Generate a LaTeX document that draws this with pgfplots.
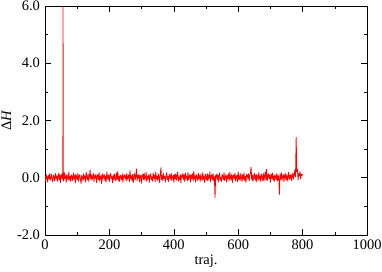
\documentclass[border=0pt]{standalone}
\usepackage{pgfplots}
\pgfplotsset{compat=1.18}
\usepackage{fontspec}
\setmainfont{Liberation Serif}
\begin{document}
\begin{tikzpicture}
\fontsize{14.5}{16}\selectfont
\path[use as bounding box] (-45pt,-36pt) rectangle (337pt,235pt);
\begin{axis}[
  at={(0,0)}, anchor=south west,
  scale only axis, width=322pt, height=229pt,
  xmin=0, xmax=1000, ymin=-2, ymax=6,
  xtick={0,200,...,1000}, ytick={-2,0,2,4,6},
  minor x tick num=1, minor y tick num=1,
  tick align=inside,
  major tick length=6pt, minor tick length=3pt,
  tick style={black, line width=0.6pt},
  axis line style={line width=1pt},
  every tick label/.append style={font=\fontsize{14.5}{16}\selectfont},
  /pgf/number format/assume math mode=true,
  yticklabel style={/pgf/number format/.cd, fixed, fixed zerofill, precision=1},
  xticklabel style={/pgf/number format/.cd, fixed, precision=0, 1000 sep={}},
  xlabel={traj.},
  ylabel={Δ\textit{H}},
  label style={font=\fontsize{14.5}{16}\selectfont},
  xlabel style={yshift=5pt},
  ylabel style={yshift=-4pt},
]
\addplot[red, line width=0.8pt, line join=round] table[row sep=\\] {
x y\\
0 0.05\\ 2 -0.12\\ 4 0.10\\ 6 0.02\\ 8 -0.15\\ 10 0.08\\ 12 -0.04\\ 14 0.14\\ 16 -0.09\\ 18 0.01\\
20 0.12\\ 22 -0.06\\ 24 -0.14\\ 26 0.09\\ 28 0.03\\ 30 -0.11\\ 32 0.16\\ 34 -0.02\\ 36 0.07\\ 38 -0.13\\
40 0.04\\ 42 0.15\\ 44 -0.08\\ 46 0.11\\ 48 -0.17\\ 50 0.06\\ 52 0.13\\ 54 -0.05\\ 55.5 0.05\\ 56 8.0\\ 56.5 0.08\\ 58 -0.12\\
60 0.18\\ 62 -0.03\\ 64 0.07\\ 66 -0.16\\ 68 0.12\\ 70 0.00\\ 72 -0.09\\ 74 0.20\\ 76 -0.07\\ 78 0.05\\
80 -0.14\\ 82 0.10\\ 84 0.03\\ 86 -0.10\\ 88 0.17\\ 90 -0.04\\ 92 0.08\\ 94 -0.19\\ 96 0.13\\ 98 0.02\\
100 -0.08\\ 102 0.15\\ 104 -0.12\\ 106 0.06\\ 108 0.11\\ 110 -0.06\\ 112 -0.20\\ 114 0.09\\ 116 0.04\\ 118 -0.11\\
120 0.14\\ 122 -0.03\\ 124 0.07\\ 126 -0.15\\ 128 0.19\\ 130 0.01\\ 132 -0.08\\ 134 0.12\\ 136 -0.13\\ 138 0.06\\
140 0.27\\ 142 -0.05\\ 144 0.10\\ 146 -0.09\\ 148 0.03\\ 150 0.16\\ 152 -0.14\\ 154 0.08\\ 156 -0.02\\ 158 0.13\\
160 -0.17\\ 162 0.05\\ 164 0.11\\ 166 -0.07\\ 168 0.18\\ 170 -0.12\\ 172 0.02\\ 174 0.09\\ 176 -0.21\\ 178 0.14\\
180 -0.04\\ 182 0.07\\ 184 0.12\\ 186 -0.10\\ 188 0.05\\ 190 -0.15\\ 192 0.20\\ 194 0.01\\ 196 -0.06\\ 198 0.11\\
200 -0.13\\ 202 0.08\\ 204 0.15\\ 206 -0.03\\ 208 0.04\\ 210 -0.18\\ 212 0.10\\ 214 -0.08\\ 216 0.13\\ 218 0.00\\
220 -0.11\\ 222 0.17\\ 224 -0.05\\ 226 0.22\\ 228 -0.09\\ 230 0.06\\ 232 -0.14\\ 234 0.09\\ 236 0.03\\ 238 -0.07\\
240 0.14\\ 242 -0.16\\ 244 0.05\\ 246 0.11\\ 248 -0.02\\ 250 0.08\\ 252 -0.12\\ 254 0.16\\ 256 -0.06\\ 258 0.03\\
260 0.10\\ 262 -0.13\\ 264 0.25\\ 266 -0.04\\ 268 0.07\\ 270 -0.10\\ 272 0.12\\ 274 -0.17\\ 276 0.02\\ 278 0.15\\
280 -0.08\\ 282 0.06\\ 284 0.31\\ 286 -0.11\\ 288 0.09\\ 290 -0.03\\ 292 0.13\\ 294 -0.15\\ 296 0.04\\ 298 0.10\\
300 -0.19\\ 302 0.07\\ 304 0.12\\ 306 -0.06\\ 308 0.16\\ 310 -0.09\\ 312 0.02\\ 314 0.19\\ 316 -0.13\\ 318 0.05\\
320 -0.04\\ 322 0.11\\ 324 -0.16\\ 326 0.08\\ 328 0.14\\ 330 -0.07\\ 332 0.03\\ 334 -0.12\\ 336 0.17\\ 338 -0.02\\
340 0.09\\ 342 -0.14\\ 344 0.21\\ 346 -0.05\\ 348 0.06\\ 350 -0.10\\ 352 0.13\\ 354 0.01\\ 356 -0.17\\ 358 0.12\\
360 0.35\\ 362 -0.06\\ 364 0.08\\ 366 -0.11\\ 368 0.15\\ 370 -0.03\\ 372 0.05\\ 374 -0.15\\ 376 0.10\\ 378 0.18\\
380 -0.08\\ 382 0.04\\ 384 -0.13\\ 386 0.12\\ 388 0.07\\ 390 -0.05\\ 392 0.16\\ 394 -0.10\\ 396 0.02\\ 398 0.09\\
400 -0.16\\ 402 0.11\\ 404 -0.04\\ 406 0.14\\ 408 -0.09\\ 410 0.06\\ 412 0.20\\ 414 -0.12\\ 416 0.03\\ 418 -0.07\\
420 0.13\\ 422 -0.18\\ 424 0.08\\ 426 0.01\\ 428 0.15\\ 430 -0.06\\ 432 0.10\\ 434 -0.14\\ 436 0.17\\ 438 -0.02\\
440 0.06\\ 442 -0.11\\ 444 0.19\\ 446 -0.07\\ 448 0.04\\ 450 0.12\\ 452 -0.15\\ 454 0.09\\ 456 -0.03\\ 458 0.14\\
460 -0.12\\ 462 0.23\\ 464 -0.05\\ 466 0.07\\ 468 -0.16\\ 470 0.11\\ 472 0.02\\ 474 -0.09\\ 476 0.16\\ 478 -0.04\\
480 0.08\\ 482 -0.13\\ 484 0.13\\ 486 0.00\\ 488 -0.10\\ 490 0.18\\ 492 -0.06\\ 494 0.05\\ 496 -0.17\\ 498 0.12\\
500 0.03\\ 502 -0.08\\ 504 0.15\\ 506 -0.12\\ 508 0.09\\ 510 -0.02\\ 512 0.20\\ 514 -0.14\\ 516 0.06\\ 518 0.11\\
520 -0.07\\ 522 0.14\\ 524 -0.11\\ 526 0.04\\ 528 -0.70\\ 530 0.08\\ 532 0.13\\ 534 -0.05\\ 536 0.10\\ 538 -0.16\\
540 0.07\\ 542 0.17\\ 544 -0.09\\ 546 0.02\\ 548 -0.13\\ 550 0.12\\ 552 0.05\\ 554 -0.06\\ 556 0.18\\ 558 -0.10\\
560 0.04\\ 562 0.11\\ 564 -0.15\\ 566 0.08\\ 568 -0.03\\ 570 0.14\\ 572 -0.11\\ 574 0.19\\ 576 0.01\\ 578 -0.08\\
580 0.13\\ 582 -0.17\\ 584 0.06\\ 586 0.10\\ 588 -0.04\\ 590 0.16\\ 592 -0.12\\ 594 0.03\\ 596 0.09\\ 598 -0.14\\
600 0.21\\ 602 -0.06\\ 604 0.07\\ 606 -0.10\\ 608 0.15\\ 610 0.00\\ 612 -0.13\\ 614 0.11\\ 616 -0.05\\ 618 0.17\\
620 -0.09\\ 622 0.05\\ 624 -0.16\\ 626 0.12\\ 628 0.08\\ 630 -0.03\\ 632 0.14\\ 634 -0.11\\ 636 0.06\\ 638 0.19\\
640 0.37\\ 642 -0.08\\ 644 0.10\\ 646 -0.13\\ 648 0.04\\ 650 0.16\\ 652 -0.07\\ 654 0.09\\ 656 -0.15\\ 658 0.12\\
660 0.02\\ 662 -0.10\\ 664 0.18\\ 666 -0.05\\ 668 0.07\\ 670 -0.14\\ 672 0.13\\ 674 0.03\\ 676 -0.09\\ 678 0.15\\
680 -0.12\\ 682 0.08\\ 684 0.20\\ 686 -0.06\\ 688 0.30\\ 690 -0.11\\ 692 0.05\\ 694 0.14\\ 696 -0.03\\ 698 0.10\\
700 -0.16\\ 702 0.12\\ 704 -0.02\\ 706 0.17\\ 708 -0.08\\ 710 0.06\\ 712 -0.13\\ 714 0.11\\ 716 0.04\\ 718 -0.07\\
720 0.15\\ 722 -0.11\\ 724 0.08\\ 726 0.01\\ 728 -0.58\\ 730 0.13\\ 732 -0.05\\ 734 0.18\\ 736 -0.09\\ 738 0.07\\
740 0.12\\ 742 -0.14\\ 744 0.05\\ 746 0.16\\ 748 -0.06\\ 750 0.10\\ 752 -0.12\\ 754 0.03\\ 756 0.19\\ 758 -0.08\\
760 0.09\\ 762 -0.03\\ 764 0.14\\ 766 -0.10\\ 768 0.06\\ 770 0.17\\ 772 -0.05\\ 774 0.11\\ 776 0.28\\ 778 0.04\\
780 1.41\\ 782 0.20\\ 784 0.30\\ 786 -0.08\\ 788 0.15\\ 790 0.06\\ 792 0.22\\ 794 -0.04\\ 796 0.12\\ 798 0.08\\
800 0.14\\
};
\end{axis}
\end{tikzpicture}
\end{document}
